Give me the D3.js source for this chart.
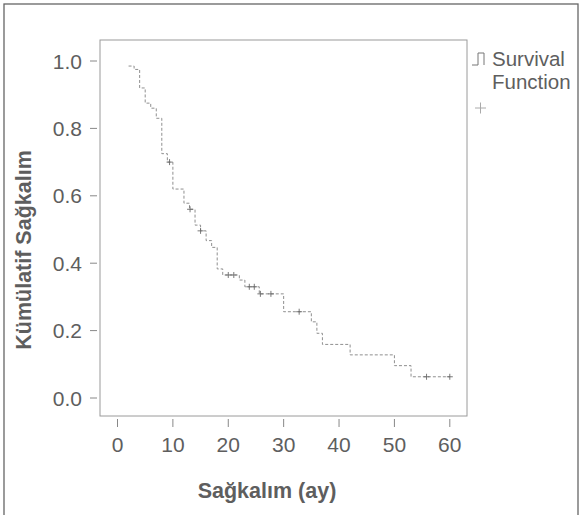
<!DOCTYPE html>
<html>
<head>
<meta charset="utf-8">
<script src="https://cdn.jsdelivr.net/npm/d3@7"></script>
<style>
  html, body { margin: 0; padding: 0; background: #fff; }
  svg { display: block; }
  text { font-family: "Liberation Sans", Arial, sans-serif; fill: #5e5e5e; }
</style>
</head>
<body>
<svg id="chart" width="581" height="515"></svg>
<script>
// Kaplan-Meier step times (months) and survival level after each step
const stepTimes = [2, 3, 4, 5, 6, 7, 8, 9, 10, 12, 13, 14, 15, 16, 17, 18, 19, 22, 23, 25.6, 30, 35, 36, 37, 42, 50, 53, 60];
const survival  = [0.985, 0.975, 0.92, 0.875, 0.86, 0.83, 0.725, 0.70, 0.62, 0.578, 0.56, 0.513, 0.496, 0.467, 0.447, 0.383, 0.365, 0.35, 0.33, 0.309, 0.256, 0.226, 0.192, 0.159, 0.128, 0.096, 0.063, 0.063];
// censored observation times
const censorTimes = [9.4, 13.1, 15, 20, 21, 23.8, 24.7, 25.8, 27.7, 32.8, 55.8, 60];
// axis ticks
const xTicks = [0, 10, 20, 30, 40, 50, 60];
const yTicks = [0.0, 0.2, 0.4, 0.6, 0.8, 1.0];
const xTitle = "Sağkalım (ay)";
const yTitle = "Kümülatif Sağkalım";
const legendLabel = ["Survival", "Function"];

const svg = d3.select("#chart");

// outer frame
svg.append("rect").attr("x", 4).attr("y", 4).attr("width", 574).attr("height", 520)
  .attr("fill", "none").attr("stroke", "#666").attr("stroke-width", 1.3);

const box = {left: 100, right: 467, top: 40, bottom: 416};
const x = d3.scaleLinear().domain([0, 60]).range([117.5, 449.8]);
const y = d3.scaleLinear().domain([0, 1]).range([398, 61]);

// plot box
svg.append("rect").attr("x", box.left).attr("y", box.top)
  .attr("width", box.right - box.left).attr("height", box.bottom - box.top)
  .attr("fill", "none").attr("stroke", "#9a9a9a").attr("stroke-width", 1);

// x axis ticks and labels
const xg = svg.append("g");
xg.selectAll("line").data(xTicks).join("line")
  .attr("x1", d => x(d)).attr("x2", d => x(d))
  .attr("y1", box.bottom + 3).attr("y2", box.bottom + 11)
  .attr("stroke", "#888").attr("stroke-width", 1);
xg.selectAll("text").data(xTicks).join("text")
  .attr("x", d => x(d)).attr("y", 452)
  .attr("text-anchor", "middle").attr("font-size", 21)
  .text(d => d);

// y axis ticks and labels
const yg = svg.append("g");
yg.selectAll("line").data(yTicks).join("line")
  .attr("x1", box.left - 10).attr("x2", box.left - 3)
  .attr("y1", d => y(d)).attr("y2", d => y(d))
  .attr("stroke", "#888").attr("stroke-width", 1);
yg.selectAll("text").data(yTicks).join("text")
  .attr("x", 82).attr("y", d => y(d)).attr("dy", "0.36em")
  .attr("text-anchor", "end").attr("font-size", 21)
  .text(d => d3.format(".1f")(d));

// axis titles
svg.append("text").attr("x", 267).attr("y", 498)
  .attr("text-anchor", "middle").attr("font-size", 21.5).attr("font-weight", "bold")
  .text(xTitle);
svg.append("text")
  .attr("transform", "translate(31,250) rotate(-90)")
  .attr("text-anchor", "middle").attr("font-size", 21.5).attr("font-weight", "bold")
  .text(yTitle);

// survival step curve
const pts = stepTimes.map((t, i) => [t, survival[i]]);
const line = d3.line().x(d => x(d[0])).y(d => y(d[1])).curve(d3.curveStepAfter);
svg.append("path").datum(pts).attr("d", line)
  .attr("fill", "none").attr("stroke", "#8f8f8f").attr("stroke-width", 1)
  .attr("stroke-dasharray", "3,2");

// censor marks
function survAt(t) {
  const i = d3.bisectRight(stepTimes, t) - 1;
  return survival[Math.max(0, i)];
}
const cg = svg.append("g").attr("stroke", "#6a6a6a").attr("stroke-width", 0.9);
censorTimes.forEach(t => {
  const cx = x(t), cy = y(survAt(t));
  cg.append("line").attr("x1", cx - 3).attr("x2", cx + 3).attr("y1", cy).attr("y2", cy);
  cg.append("line").attr("x1", cx).attr("x2", cx).attr("y1", cy - 3).attr("y2", cy + 3);
});

// legend
const lg = svg.append("g");
lg.append("path")
  .attr("d", "M472,65 H478 V53 H484 V65")
  .attr("fill", "none").attr("stroke", "#777").attr("stroke-width", 1);
lg.selectAll("text").data(legendLabel).join("text")
  .attr("x", 492).attr("y", (d, i) => 66 + i * 23)
  .attr("font-size", 20.5)
  .text(d => d);
lg.append("line").attr("x1", 475).attr("x2", 486).attr("y1", 108).attr("y2", 108).attr("stroke", "#aaa");
lg.append("line").attr("x1", 480.5).attr("x2", 480.5).attr("y1", 102.5).attr("y2", 113.5).attr("stroke", "#aaa");
</script>
</body>
</html>
